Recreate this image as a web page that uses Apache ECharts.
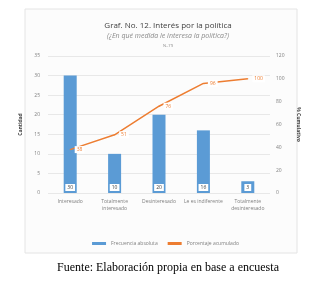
<!DOCTYPE html>
<html>
<head>
<meta charset="utf-8">
<script src="https://cdn.jsdelivr.net/npm/echarts@6/dist/echarts.min.js"></script>
<style>
  html, body { margin: 0; padding: 0; background: #fff; }
  #chart { width: 331px; height: 283px; }
</style>
</head>
<body>
<div id="chart"></div>
<script>
const categories = ['Interesado', 'Totalmente\ninteresado', 'Desinteresado', 'Le es indiferente', 'Totalmente\ndesinteresado'];
const frecuencia = [30, 10, 20, 16, 3];
const acumulado = [38, 51, 76, 96, 100];
const leftTicks = { min: 0, max: 35, interval: 5 };
const rightTicks = { min: 0, max: 120, interval: 20 };

const blue = '#5b9bd5';
const orange = '#ed7d31';
const gray = '#7f7f7f';

const chart = echarts.init(document.getElementById('chart'));

chart.setOption({
  backgroundColor: '#fff',
  animation: false,
  graphic: [{
    type: 'rect',
    shape: { x: 25, y: 9, width: 272, height: 244 },
    style: { fill: '#fcfcfc', stroke: '#e4e4e4', lineWidth: 1 },
    z: -1
  }],
  title: [
    {
      text: 'Graf. No. 12. Interés por la política',
      subtext: '(¿En qué medida le interesa la política?)',
      left: 163, top: 17, textAlign: 'center',
      itemGap: 2,
      textStyle: { fontFamily: 'Open Sans', fontSize: 8, fontWeight: 'normal', color: '#404040' },
      subtextStyle: { fontFamily: 'Open Sans', fontSize: 7, fontStyle: 'italic', color: '#8a8a8a' }
    },
    {
      text: 'N=79',
      left: 163, top: 39, textAlign: 'center',
      textStyle: { fontFamily: 'Open Sans', fontSize: 4, fontWeight: 'normal', color: '#8a8a8a' }
    },
    {
      text: 'Fuente: Elaboración propia en base a encuesta',
      left: 163, top: 257, textAlign: 'center',
      textStyle: { fontFamily: 'Liberation Serif', fontSize: 12, fontWeight: 'normal', color: '#000' }
    }
  ],
  legend: {
    top: 236, left: 'center',
    itemWidth: 14, itemHeight: 3, itemGap: 10,
    textStyle: { fontFamily: 'Open Sans', fontSize: 5, color: gray },
    data: [
      { name: 'Frecuencia absoluta', icon: 'rect' },
      { name: 'Porcentaje acumulado', icon: 'rect', itemStyle: { color: orange } }
    ]
  },
  grid: { left: 48, right: 61, top: 56, bottom: 90 },
  xAxis: {
    type: 'category',
    data: categories,
    axisLine: { show: false },
    axisTick: { show: false },
    axisLabel: { interval: 0, fontFamily: 'Open Sans', fontSize: 5, color: gray, lineHeight: 7, margin: 5 }
  },
  yAxis: [
    {
      type: 'value',
      min: leftTicks.min, max: leftTicks.max, interval: leftTicks.interval,
      name: 'Cantidad', nameLocation: 'middle', nameGap: 12, nameRotate: 90,
      nameTextStyle: { fontFamily: 'Open Sans', fontSize: 5, fontWeight: 'bold', color: '#404040' },
      axisLabel: { fontFamily: 'Open Sans', fontSize: 5, color: gray, margin: 8 },
      splitLine: { lineStyle: { color: '#e8e8e8', width: 1 } }
    },
    {
      type: 'value',
      min: rightTicks.min, max: rightTicks.max, interval: rightTicks.interval,
      name: '% Cumulativo', nameLocation: 'middle', nameGap: 20, nameRotate: -90,
      nameTextStyle: { fontFamily: 'Open Sans', fontSize: 5, fontWeight: 'bold', color: '#404040' },
      axisLabel: { fontFamily: 'Open Sans', fontSize: 5, color: gray, margin: 6 },
      splitLine: { show: false }
    }
  ],
  series: [
    {
      name: 'Frecuencia absoluta',
      type: 'bar',
      data: frecuencia,
      barWidth: 13,
      itemStyle: { color: blue },
      label: {
        show: true, position: 'insideBottom', distance: 2,
        fontFamily: 'Open Sans', fontSize: 5, color: '#404040',
        backgroundColor: '#fff', borderColor: blue, borderWidth: 1,
        padding: [1, 2]
      }
    },
    {
      name: 'Porcentaje acumulado',
      type: 'line',
      yAxisIndex: 1,
      data: acumulado,
      symbol: 'circle',
      symbolSize: 1,
      showSymbol: true,
      lineStyle: { color: orange, width: 1.5 },
      itemStyle: { color: orange },
      label: {
        show: true, position: 'right', distance: 4,
        fontFamily: 'Open Sans', fontSize: 5, color: orange,
        backgroundColor: '#fff', padding: [1, 2]
      }
    }
  ]
});
</script>
</body>
</html>
